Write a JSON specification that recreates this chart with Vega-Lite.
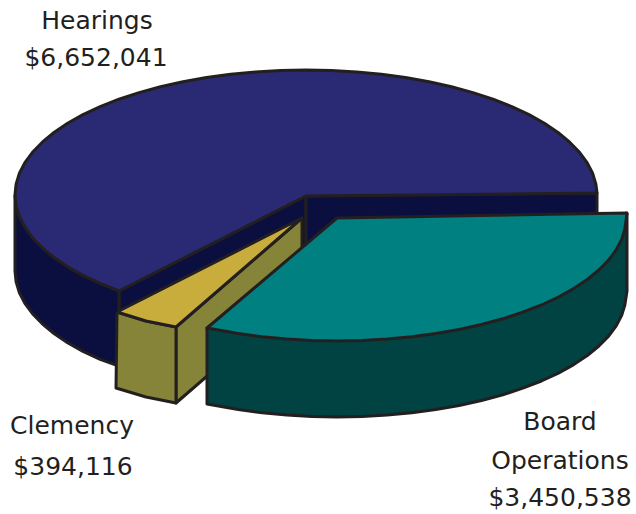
{"$schema":"https://vega.github.io/schema/vega-lite/v6.json","width":636,"height":514,"padding":0,"autosize":{"type":"none"},"background":"white","view":{"stroke":null},
"datasets":{
"faces":[
{"f":"a_wall_left","s":1,"x":306,"y":196},{"f":"a_wall_left","s":2,"x":119,"y":291},{"f":"a_wall_left","s":3,"x":119,"y":366},{"f":"a_wall_left","s":4,"x":306,"y":272},{"f":"a_wall_left","s":5,"x":306,"y":196},
{"f":"b_wall_right","s":1,"x":306,"y":196},{"f":"b_wall_right","s":2,"x":597,"y":193},{"f":"b_wall_right","s":3,"x":597,"y":270},{"f":"b_wall_right","s":4,"x":306,"y":272},{"f":"b_wall_right","s":5,"x":306,"y":196},
{"f":"c_hearings_side","s":1,"x":15,"y":195},{"f":"c_hearings_side","s":2,"x":16.1,"y":205.9},{"f":"c_hearings_side","s":3,"x":19.4,"y":216.7},{"f":"c_hearings_side","s":4,"x":24.9,"y":227.3},{"f":"c_hearings_side","s":5,"x":32.5,"y":237.7},{"f":"c_hearings_side","s":6,"x":42.3,"y":247.8},{"f":"c_hearings_side","s":7,"x":54,"y":257.5},{"f":"c_hearings_side","s":8,"x":67.6,"y":266.7},{"f":"c_hearings_side","s":9,"x":83,"y":275.4},{"f":"c_hearings_side","s":10,"x":100.2,"y":283.4},{"f":"c_hearings_side","s":11,"x":119,"y":291},{"f":"c_hearings_side","s":12,"x":119,"y":366},{"f":"c_hearings_side","s":13,"x":100.2,"y":359.4},{"f":"c_hearings_side","s":14,"x":83,"y":351.4},{"f":"c_hearings_side","s":15,"x":67.6,"y":342.7},{"f":"c_hearings_side","s":16,"x":54,"y":333.5},{"f":"c_hearings_side","s":17,"x":42.3,"y":323.8},{"f":"c_hearings_side","s":18,"x":32.5,"y":313.7},{"f":"c_hearings_side","s":19,"x":24.9,"y":303.3},{"f":"c_hearings_side","s":20,"x":19.4,"y":292.7},{"f":"c_hearings_side","s":21,"x":16.1,"y":281.9},{"f":"c_hearings_side","s":22,"x":15,"y":271},{"f":"c_hearings_side","s":23,"x":15,"y":195},
{"f":"d_hearings_top","s":1,"x":306,"y":196},{"f":"d_hearings_top","s":2,"x":597,"y":193},{"f":"d_hearings_top","s":3,"x":595.9,"y":184.1},{"f":"d_hearings_top","s":4,"x":592.6,"y":173.3},{"f":"d_hearings_top","s":5,"x":587.1,"y":162.7},{"f":"d_hearings_top","s":6,"x":579.5,"y":152.3},{"f":"d_hearings_top","s":7,"x":569.7,"y":142.2},{"f":"d_hearings_top","s":8,"x":558,"y":132.5},{"f":"d_hearings_top","s":9,"x":544.4,"y":123.3},{"f":"d_hearings_top","s":10,"x":529,"y":114.6},{"f":"d_hearings_top","s":11,"x":511.8,"y":106.6},{"f":"d_hearings_top","s":12,"x":493,"y":99.2},{"f":"d_hearings_top","s":13,"x":472.9,"y":92.6},{"f":"d_hearings_top","s":14,"x":451.5,"y":86.8},{"f":"d_hearings_top","s":15,"x":429,"y":81.7},{"f":"d_hearings_top","s":16,"x":405.5,"y":77.5},{"f":"d_hearings_top","s":17,"x":381.3,"y":74.3},{"f":"d_hearings_top","s":18,"x":356.5,"y":71.9},{"f":"d_hearings_top","s":19,"x":331.4,"y":70.5},{"f":"d_hearings_top","s":20,"x":306,"y":70},{"f":"d_hearings_top","s":21,"x":280.6,"y":70.5},{"f":"d_hearings_top","s":22,"x":255.5,"y":71.9},{"f":"d_hearings_top","s":23,"x":230.7,"y":74.3},{"f":"d_hearings_top","s":24,"x":206.5,"y":77.5},{"f":"d_hearings_top","s":25,"x":183,"y":81.7},{"f":"d_hearings_top","s":26,"x":160.5,"y":86.8},{"f":"d_hearings_top","s":27,"x":139.1,"y":92.6},{"f":"d_hearings_top","s":28,"x":119,"y":99.2},{"f":"d_hearings_top","s":29,"x":100.2,"y":106.6},{"f":"d_hearings_top","s":30,"x":83,"y":114.6},{"f":"d_hearings_top","s":31,"x":67.6,"y":123.3},{"f":"d_hearings_top","s":32,"x":54,"y":132.5},{"f":"d_hearings_top","s":33,"x":42.3,"y":142.2},{"f":"d_hearings_top","s":34,"x":32.5,"y":152.3},{"f":"d_hearings_top","s":35,"x":24.9,"y":162.7},{"f":"d_hearings_top","s":36,"x":19.4,"y":173.3},{"f":"d_hearings_top","s":37,"x":16.1,"y":184.1},{"f":"d_hearings_top","s":38,"x":15,"y":195},{"f":"d_hearings_top","s":39,"x":16.1,"y":205.9},{"f":"d_hearings_top","s":40,"x":19.4,"y":216.7},{"f":"d_hearings_top","s":41,"x":24.9,"y":227.3},{"f":"d_hearings_top","s":42,"x":32.5,"y":237.7},{"f":"d_hearings_top","s":43,"x":42.3,"y":247.8},{"f":"d_hearings_top","s":44,"x":54,"y":257.5},{"f":"d_hearings_top","s":45,"x":67.6,"y":266.7},{"f":"d_hearings_top","s":46,"x":83,"y":275.4},{"f":"d_hearings_top","s":47,"x":100.2,"y":283.4},{"f":"d_hearings_top","s":48,"x":119,"y":291},{"f":"d_hearings_top","s":49,"x":306,"y":196},
{"f":"e_clemency_inner","s":1,"x":176,"y":327},{"f":"e_clemency_inner","s":2,"x":302,"y":218},{"f":"e_clemency_inner","s":3,"x":302,"y":294},{"f":"e_clemency_inner","s":4,"x":176,"y":403},{"f":"e_clemency_inner","s":5,"x":176,"y":327},
{"f":"f_clemency_side","s":1,"x":117,"y":312},{"f":"f_clemency_side","s":2,"x":146,"y":321},{"f":"f_clemency_side","s":3,"x":176,"y":327},{"f":"f_clemency_side","s":4,"x":176,"y":403},{"f":"f_clemency_side","s":5,"x":146,"y":397},{"f":"f_clemency_side","s":6,"x":116,"y":388},{"f":"f_clemency_side","s":7,"x":117,"y":312},
{"f":"g_clemency_top","s":1,"x":117,"y":312},{"f":"g_clemency_top","s":2,"x":302,"y":218},{"f":"g_clemency_top","s":3,"x":176,"y":327},{"f":"g_clemency_top","s":4,"x":146,"y":321},{"f":"g_clemency_top","s":5,"x":117,"y":312},
{"f":"h_board_side","s":1,"x":627,"y":213},{"f":"h_board_side","s":2,"x":627,"y":291},{"f":"h_board_side","s":3,"x":624.9,"y":304.7},{"f":"h_board_side","s":4,"x":621.7,"y":315.4},{"f":"h_board_side","s":5,"x":616.2,"y":325.8},{"f":"h_board_side","s":6,"x":608.6,"y":336.1},{"f":"h_board_side","s":7,"x":598.9,"y":346},{"f":"h_board_side","s":8,"x":587.3,"y":355.5},{"f":"h_board_side","s":9,"x":573.7,"y":364.6},{"f":"h_board_side","s":10,"x":558.4,"y":373.1},{"f":"h_board_side","s":11,"x":541.4,"y":381},{"f":"h_board_side","s":12,"x":522.8,"y":388.2},{"f":"h_board_side","s":13,"x":502.8,"y":394.8},{"f":"h_board_side","s":14,"x":481.5,"y":400.5},{"f":"h_board_side","s":15,"x":459.1,"y":405.5},{"f":"h_board_side","s":16,"x":435.8,"y":409.6},{"f":"h_board_side","s":17,"x":411.8,"y":412.8},{"f":"h_board_side","s":18,"x":387.2,"y":415.1},{"f":"h_board_side","s":19,"x":362.2,"y":416.5},{"f":"h_board_side","s":20,"x":337,"y":417},{"f":"h_board_side","s":21,"x":311.8,"y":416.5},{"f":"h_board_side","s":22,"x":286.8,"y":415.1},{"f":"h_board_side","s":23,"x":262.2,"y":412.8},{"f":"h_board_side","s":24,"x":238.2,"y":409.6},{"f":"h_board_side","s":25,"x":207,"y":404},{"f":"h_board_side","s":26,"x":207,"y":328},{"f":"h_board_side","s":27,"x":337,"y":300},{"f":"h_board_side","s":28,"x":627,"y":213},
{"f":"i_board_top","s":1,"x":337,"y":218},{"f":"i_board_top","s":2,"x":627,"y":213},{"f":"i_board_top","s":3,"x":624.9,"y":228.7},{"f":"i_board_top","s":4,"x":621.7,"y":239.4},{"f":"i_board_top","s":5,"x":616.2,"y":249.8},{"f":"i_board_top","s":6,"x":608.6,"y":260.1},{"f":"i_board_top","s":7,"x":598.9,"y":270},{"f":"i_board_top","s":8,"x":587.3,"y":279.5},{"f":"i_board_top","s":9,"x":573.7,"y":288.6},{"f":"i_board_top","s":10,"x":558.4,"y":297.1},{"f":"i_board_top","s":11,"x":541.4,"y":305},{"f":"i_board_top","s":12,"x":522.8,"y":312.2},{"f":"i_board_top","s":13,"x":502.8,"y":318.8},{"f":"i_board_top","s":14,"x":481.5,"y":324.5},{"f":"i_board_top","s":15,"x":459.1,"y":329.5},{"f":"i_board_top","s":16,"x":435.8,"y":333.6},{"f":"i_board_top","s":17,"x":411.8,"y":336.8},{"f":"i_board_top","s":18,"x":387.2,"y":339.1},{"f":"i_board_top","s":19,"x":362.2,"y":340.5},{"f":"i_board_top","s":20,"x":337,"y":341},{"f":"i_board_top","s":21,"x":311.8,"y":340.5},{"f":"i_board_top","s":22,"x":286.8,"y":339.1},{"f":"i_board_top","s":23,"x":262.2,"y":336.8},{"f":"i_board_top","s":24,"x":238.2,"y":333.6},{"f":"i_board_top","s":25,"x":207,"y":328},{"f":"i_board_top","s":26,"x":337,"y":218}
],
"labels":[
{"t":"Hearings","x":97,"y":29},{"t":"$6,652,041","x":96,"y":66},
{"t":"Clemency","x":72,"y":434},{"t":"$394,116","x":73,"y":475},
{"t":"Board","x":560,"y":430},{"t":"Operations","x":560,"y":469},{"t":"$3,450,538","x":560,"y":506}
]},
"layer":[
{"data":{"name":"faces"},"mark":{"type":"line","filled":true,"stroke":"#231f20","strokeWidth":3,"strokeJoin":"round","interpolate":"linear"},
"encoding":{
"x":{"field":"x","type":"quantitative","scale":{"domain":[0,636],"nice":false,"zero":false},"axis":null},
"y":{"field":"y","type":"quantitative","scale":{"domain":[0,514],"reverse":true,"nice":false,"zero":false},"axis":null},
"order":{"field":"s","type":"quantitative"},
"detail":{"field":"f"},
"fill":{"field":"f","type":"nominal","legend":null,"scale":{"domain":["a_wall_left","b_wall_right","c_hearings_side","d_hearings_top","e_clemency_inner","f_clemency_side","g_clemency_top","h_board_side","i_board_top"],"range":["#0b0f40","#0b0f40","#0b0f40","#292a73","#868438","#868438","#c9ad3c","#014242","#008080"]}}}},
{"data":{"name":"labels"},"mark":{"type":"text","font":"DejaVu Sans","fontSize":25,"align":"center","baseline":"alphabetic","color":"#231f20"},
"encoding":{
"x":{"field":"x","type":"quantitative","scale":{"domain":[0,636],"nice":false,"zero":false},"axis":null},
"y":{"field":"y","type":"quantitative","scale":{"domain":[0,514],"reverse":true,"nice":false,"zero":false},"axis":null},
"text":{"field":"t"}}}
]}
